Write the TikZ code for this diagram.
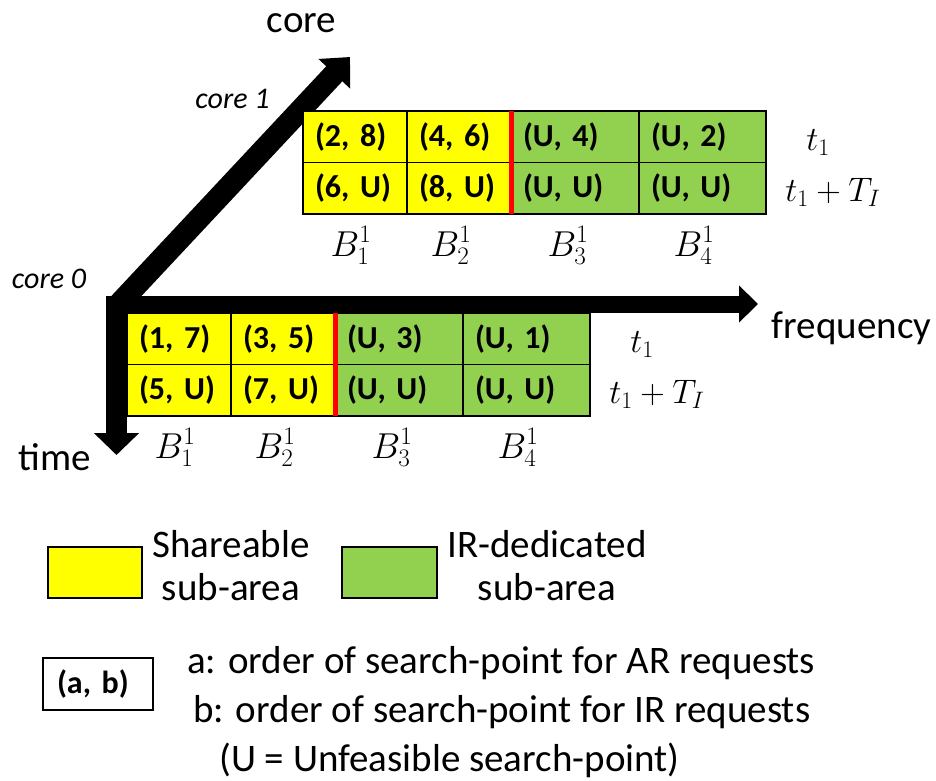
\RequirePackage{fix-cm}
\documentclass[tikz,border=0pt]{standalone}
\usepackage{fontspec}
\setmainfont{Carlito}
\usetikzlibrary{arrows.meta}

\definecolor{shyellow}{HTML}{FFFF00}
\definecolor{irgreen}{HTML}{92D050}
\definecolor{divred}{HTML}{FF0000}

\newcommand\txtfont{\fontsize{39}{43}\selectfont}
\newcommand\cellfont{\fontsize{32}{36}\selectfont\bfseries}
\newcommand\corefont{\fontsize{30}{34}\selectfont\itshape}
\newcommand\blkfont{\fontsize{36}{40}\selectfont}
\newcommand\slotfont{\fontsize{34}{38}\selectfont}

% one time-frequency grid of a core: 2 time slots x 4 blocks
\newcommand\spectrumgrid[8]{%
  \node[shr,wa] (r1c1) at (179,338.75)   {#1};
  \node[shr,wa] (r1c2) at (283,338.75)   {#2};
  \node[ird,wb] (r1c3) at (399,338.75)   {#3};
  \node[ird,wc] (r1c4) at (526.5,338.75) {#4};
  \node[shr,wa] (r2c1) at (179,390.25)   {#5};
  \node[shr,wa] (r2c2) at (283,390.25)   {#6};
  \node[ird,wb] (r2c3) at (399,390.25)   {#7};
  \node[ird,wc] (r2c4) at (526.5,390.25) {#8};
  \draw[divider] (r1c3.north west) -- (r2c3.south west);
  \node[blklabel] (blk1) at (175,458) {$B_1^1$};
  \node[blklabel] (blk2) at (275,458) {$B_2^1$};
  \node[blklabel] (blk3) at (392,458) {$B_3^1$};
  \node[blklabel] (blk4) at (518,458) {$B_4^1$};
  \node[slotlabel] (slot1) at (642,352) {$t_1$};
  \node[slotlabel] (slot2) at (657,403) {$t_1+T_I$};
}

\begin{document}
\begin{tikzpicture}[x=1pt,y=-1pt,
  axis/.style={draw=black},
  cell/.style={draw=black, line width=1.2pt, minimum height=51.5pt,
    inner xsep=12pt, inner ysep=0pt, outer sep=0pt, align=left, font=\cellfont},
  shr/.style={cell, fill=shyellow},
  ird/.style={cell, fill=irgreen},
  wa/.style={minimum width=104pt, text width=80pt},
  wb/.style={minimum width=128pt, text width=104pt},
  wc/.style={minimum width=127pt, text width=103pt},
  divider/.style={draw=divred, line width=5pt},
  blklabel/.style={anchor=base, inner sep=0pt, font=\blkfont},
  slotlabel/.style={anchor=base, inner sep=0pt, font=\slotfont},
  lbl/.style={anchor=base, inner sep=0pt, font=\txtfont},
  corelbl/.style={anchor=base, inner sep=0pt, font=\corefont},
  swatch/.style={draw=black, line width=1.2pt, minimum width=94pt, minimum height=51pt, inner sep=0pt},
]
\useasboundingbox (0,0) rectangle (936,780);

% axes
\coordinate (hstart) at (106,304);
\coordinate (ftip) at (758,304);
\coordinate (vstart) at (116.5,297);
\coordinate (ttip) at (116.5,455);
\coordinate (dstart) at (118,305);
\coordinate (ctip) at (350,57);
\draw[axis, line width=17pt, -{Triangle[length=19pt,width=36pt]}] (hstart) -- (ftip);
\draw[axis, line width=21pt, -{Triangle[length=22pt,width=44pt]}] (vstart) -- (ttip);
\draw[axis, line width=22pt, -{Triangle[length=23pt,width=42pt]}] (dstart) -- (ctip);

\node[lbl] (freq) at (851.5,338) {frequency};
\node[lbl] (time) at (55,470) {time};
\node[lbl] (core) at (301.5,32) {core};
\node[corelbl] (core0) at (49,288) {core 0};
\node[corelbl] (core1) at (232.5,108) {core 1};

% core 0 grid
\begin{scope}[name prefix=lo-]
  \spectrumgrid{(1, 7)}{(3, 5)}{(U, 3)}{(U, 1)}{(5, U)}{(7, U)}{(U, U)}{(U, U)}
\end{scope}
% core 1 grid
\begin{scope}[shift={(176,-202)}, name prefix=up-]
  \spectrumgrid{(2, 8)}{(4, 6)}{(U, 4)}{(U, 2)}{(6, U)}{(8, U)}{(U, U)}{(U, U)}
\end{scope}

% legend (base anchor of a two-line node sits on its last line)
\node[swatch, fill=shyellow] (keyshr) at (95,572.5) {};
\node[lbl, align=center] (keyshrtxt) at (231,600) {Shareable\\sub-area};
\node[swatch, fill=irgreen, minimum width=95pt] (keyird) at (389.5,572.5) {};
\node[lbl, align=center] (keyirdtxt) at (547,600) {IR-dedicated\\sub-area};

\node[draw=black, line width=1.2pt, minimum width=110pt, minimum height=52pt,
  inner xsep=14pt, text width=82pt, align=left, font=\cellfont] (keyab) at (98,684) {(a, b)};
\node[lbl, anchor=base west] (keya) at (187,673) {a: order of search-point for AR requests};
\node[lbl, anchor=base west] (keyb) at (193,722) {b: order of search-point for IR requests};
\node[lbl, anchor=base west] (keyu) at (219,771) {(U = Unfeasible search-point)};
\end{tikzpicture}
\end{document}
